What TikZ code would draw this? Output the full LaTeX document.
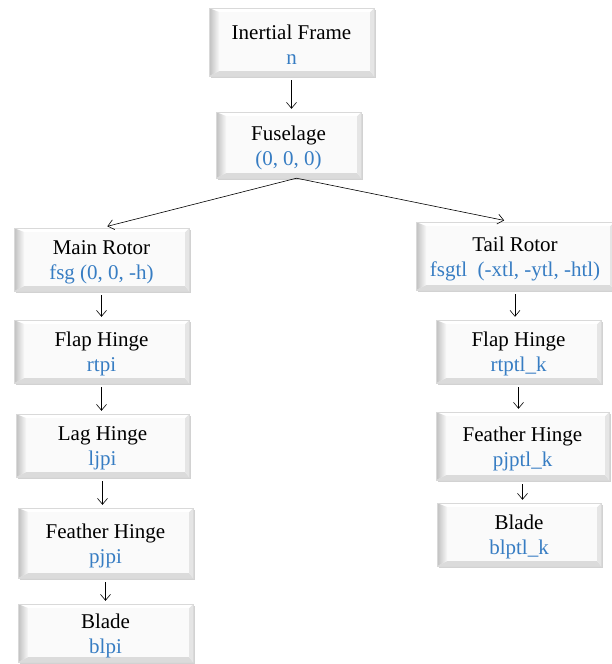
\documentclass[tikz,border=0pt]{standalone}
\usepackage{fontspec}
\setmainfont{Liberation Serif}
\usetikzlibrary{arrows.meta,shadows}
\definecolor{lblue}{RGB}{55,125,195}
\newcommand{\frametext}[2]{\rule{0pt}{20pt}#1\\\textcolor{lblue}{#2}}

\tikzset{
  bevel/.style={rectangle, inner sep=0pt, align=center, fill=gray!4, draw=gray!30,
    font=\fontsize{21}{25}\selectfont,
    drop shadow={shadow xshift=2pt, shadow yshift=-2pt, fill=gray!70, opacity=0.5},
    path picture={
      \path (path picture bounding box.south west) coordinate (bsw)
            (path picture bounding box.north west) coordinate (bnw)
            (path picture bounding box.north east) coordinate (bne)
            (path picture bounding box.south east) coordinate (bse);
      % bottom and right edges
      \fill[gray!28] (bsw) -- (bse) -- ([shift={(-4pt,5pt)}]bse) -- ([shift={(10pt,5pt)}]bsw) -- cycle;
      \fill[gray!20] (bse) -- (bne) -- ([shift={(-4pt,-4pt)}]bne) -- ([shift={(-4pt,5pt)}]bse) -- cycle;
      % top edge
      \fill[white] (bnw) -- (bne) -- ([shift={(-4pt,-4pt)}]bne) -- ([shift={(10pt,-4pt)}]bnw) -- cycle;
      % left edge
      \shade[left color=gray!50, right color=gray!6] (bsw) -- (bnw) -- ([shift={(10pt,-4pt)}]bnw) -- ([shift={(10pt,5pt)}]bsw) -- cycle;
    }},
  link/.style={-{Straight Barb[length=6pt,width=10pt]}, line width=0.6pt,
    shorten <=4pt, shorten >=3pt}
}

\begin{document}
\begin{tikzpicture}[x=1pt, y=-1pt]
\useasboundingbox[fill=white] (0,0) rectangle (611,664);

\node[bevel, minimum width=165pt, minimum height=68pt] (inertial) at (291.5,42) {\frametext{Inertial Frame}{n}};
\node[bevel, minimum width=145pt, minimum height=66pt] (fuse) at (288.5,145) {\frametext{Fuselage}{(0, 0, 0)}};

% main rotor branch
\node[bevel, minimum width=175pt, minimum height=63pt] (mrotor) at (101.5,259.5) {\frametext{Main Rotor}{fsg (0, 0, -h)}};
\node[bevel, minimum width=175pt, minimum height=63pt] (mflap) at (101.5,351.5) {\frametext{Flap Hinge}{rtpi}};
\node[bevel, minimum width=173pt, minimum height=63pt] (mlag) at (102.5,445.5) {\frametext{Lag Hinge}{ljpi}};
\node[bevel, minimum width=175pt, minimum height=70pt] (mfeather) at (105.5,543) {\frametext{Feather Hinge}{pjpi}};
\node[bevel, minimum width=175pt, minimum height=58pt] (mblade) at (105.5,633) {\frametext{Blade}{blpi}};

% tail rotor branch
\node[bevel, minimum width=198pt, minimum height=68pt] (trotor) at (515,256) {\frametext{Tail Rotor}{fsgtl\ \ (-xtl, -ytl, -htl)}};
\node[bevel, minimum width=165pt, minimum height=63pt] (tflap) at (518.5,351.5) {\frametext{Flap Hinge}{rtptl\_k}};
\node[bevel, minimum width=173pt, minimum height=68pt] (tfeather) at (522.5,446) {\frametext{Feather Hinge}{pjptl\_k}};
\node[bevel, minimum width=164pt, minimum height=63pt] (tblade) at (519,534.5) {\frametext{Blade}{blptl\_k}};

\foreach \from/\to in {inertial/fuse, mrotor/mflap, mflap/mlag, mlag/mfeather,
  mfeather/mblade, trotor/tflap, tflap/tfeather, tfeather/tblade}
{
	\draw[link] (\from.south) -- (\from.south |- \to.north);
}

\draw[link, shorten <=0pt, shorten >=6pt] ([xshift=8pt]fuse.south) -- (mrotor.north);
\draw[link, shorten <=0pt, shorten >=7pt] ([xshift=8pt]fuse.south) -- ([xshift=-4pt]trotor.north);

\end{tikzpicture}
\end{document}
